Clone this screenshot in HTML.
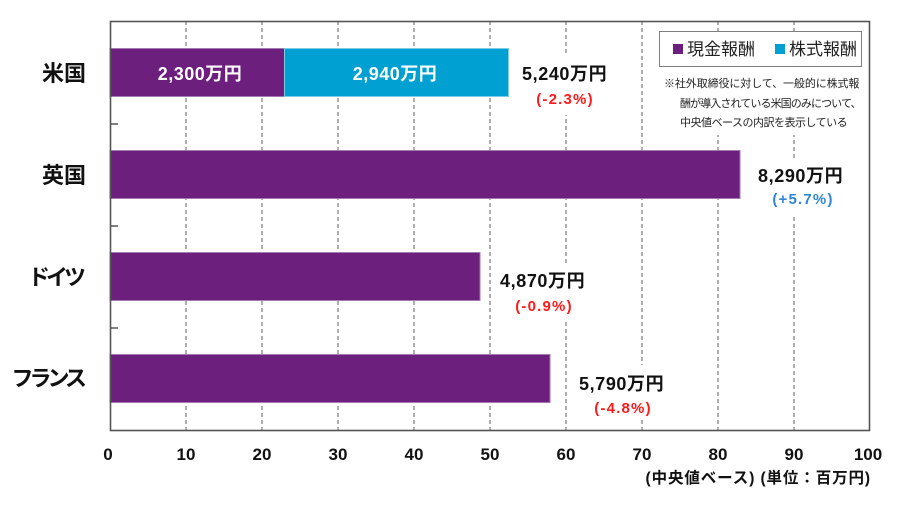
<!DOCTYPE html>
<html><head><meta charset="utf-8"><style>
html,body{margin:0;padding:0;background:#fff;}
svg{display:block;}
text{font-family:"Liberation Sans","Noto Sans CJK JP",sans-serif;}
.b{font-weight:bold;}
</style></head><body>
<svg width="900" height="515" viewBox="0 0 900 515" xmlns="http://www.w3.org/2000/svg">
<rect x="0" y="0" width="900" height="515" fill="#fff"/>
<!-- gridlines -->
<g stroke="#7a7a7a" stroke-width="1.2" stroke-dasharray="4,3">
<line x1="186" y1="21" x2="186" y2="430"/>
<line x1="262" y1="21" x2="262" y2="430"/>
<line x1="338" y1="21" x2="338" y2="430"/>
<line x1="414" y1="21" x2="414" y2="430"/>
<line x1="490" y1="21" x2="490" y2="430"/>
<line x1="566" y1="21" x2="566" y2="430"/>
<line x1="642" y1="21" x2="642" y2="430"/>
<line x1="718" y1="21" x2="718" y2="430"/>
<line x1="794" y1="21" x2="794" y2="430"/>
</g>
<!-- white label backgrounds breaking gridlines -->
<g fill="#fff">
<rect x="515" y="55" width="100" height="60"/>
<rect x="750" y="158" width="105" height="57"/>
<rect x="505" y="263" width="95" height="57"/>
<rect x="575" y="365" width="97" height="55"/>
<rect x="659" y="31" width="203" height="104"/>
</g>
<!-- bars -->
<rect x="110" y="48.5" width="174.5" height="48" fill="#6C1F7D" stroke="#a47ab2" stroke-width="1"/>
<rect x="284.5" y="48.5" width="224" height="48" fill="#00A0D2" stroke="#7fcbe6" stroke-width="1"/>
<rect x="110" y="150.5" width="630" height="48" fill="#6C1F7D" stroke="#a47ab2" stroke-width="1"/>
<rect x="110" y="252.5" width="370" height="48" fill="#6C1F7D" stroke="#a47ab2" stroke-width="1"/>
<rect x="110" y="354.5" width="440" height="48" fill="#6C1F7D" stroke="#a47ab2" stroke-width="1"/>
<!-- frame -->
<rect x="110.5" y="21.5" width="759" height="409" fill="none" stroke="#555" stroke-width="1.6"/>
<g stroke="#555" stroke-width="1.5">
<line x1="110" y1="124" x2="118" y2="124"/>
<line x1="110" y1="226" x2="118" y2="226"/>
<line x1="110" y1="328" x2="118" y2="328"/>
</g>
<!-- in-bar labels -->
<text class="b" x="200" y="80" font-size="18" fill="#fff" text-anchor="middle" letter-spacing="0.5">2,300万円</text>
<text class="b" x="395" y="80" font-size="18" fill="#fff" text-anchor="middle" letter-spacing="0.5">2,940万円</text>
<!-- value labels -->
<text class="b" x="522" y="80" font-size="18" fill="#111" letter-spacing="0.6">5,240万円</text>
<text class="b" x="565" y="104" font-size="15" fill="#ff1a1a" text-anchor="middle" letter-spacing="1.2">(-2.3%)</text>
<text class="b" x="758" y="182" font-size="18" fill="#111" letter-spacing="0.6">8,290万円</text>
<text class="b" x="803" y="204" font-size="15" fill="#2f86d6" text-anchor="middle" letter-spacing="1.2">(+5.7%)</text>
<text class="b" x="500" y="287" font-size="18" fill="#111" letter-spacing="0.6">4,870万円</text>
<text class="b" x="544" y="311" font-size="15" fill="#ff1a1a" text-anchor="middle" letter-spacing="1.2">(-0.9%)</text>
<text class="b" x="579" y="390" font-size="18" fill="#111" letter-spacing="0.6">5,790万円</text>
<text class="b" x="623" y="413" font-size="15" fill="#ff1a1a" text-anchor="middle" letter-spacing="1.2">(-4.8%)</text>
<!-- category labels -->
<text class="b" x="86" y="81" font-size="22" fill="#111" text-anchor="end">米国</text>
<text class="b" x="86" y="183" font-size="22" fill="#111" text-anchor="end">英国</text>
<text class="b" x="82" y="285" font-size="22" fill="#111" text-anchor="end" letter-spacing="-4">ドイツ</text>
<text class="b" x="83" y="386" font-size="22" fill="#111" text-anchor="end" letter-spacing="-4">フランス</text>
<!-- x ticks -->
<g font-size="17" fill="#111" text-anchor="middle" font-weight="bold">
<text x="108" y="460">0</text>
<text x="186" y="460">10</text>
<text x="262" y="460">20</text>
<text x="338" y="460">30</text>
<text x="414" y="460">40</text>
<text x="490" y="460">50</text>
<text x="566" y="460">60</text>
<text x="642" y="460">70</text>
<text x="718" y="460">80</text>
<text x="794" y="460">90</text>
<text x="868" y="460">100</text>
</g>
<text class="b" x="871" y="483" font-size="15.5" fill="#111" text-anchor="end" letter-spacing="0.9">(中央値ベース) (単位：百万円)</text>
<!-- legend -->
<rect x="659.5" y="31.5" width="202" height="35" fill="#fff" stroke="#7f7f7f" stroke-width="1"/>
<rect x="673" y="44" width="10" height="10" fill="#6C1F7D"/>
<text x="687" y="55" font-size="17" fill="#222">現金報酬</text>
<rect x="775" y="44" width="10" height="10" fill="#00A0D2"/>
<text x="789" y="55" font-size="17" fill="#222">株式報酬</text>
<!-- note -->
<text x="664" y="87" font-size="11" fill="#222" letter-spacing="-0.1">※社外取締役に対して、一般的に株式報</text>
<text x="680" y="107" font-size="11" fill="#222" letter-spacing="-0.9">酬が導入されている米国のみについて、</text>
<text x="680" y="126" font-size="11" fill="#222" letter-spacing="-0.5">中央値ベースの内訳を表示している</text>
</svg>
</body></html>
